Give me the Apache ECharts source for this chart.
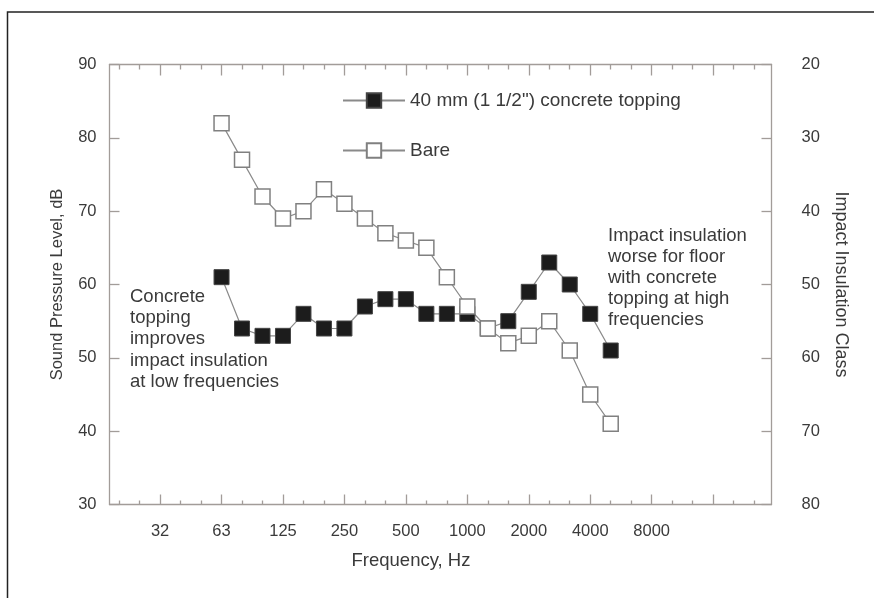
<!DOCTYPE html>
<html>
<head>
<meta charset="utf-8">
<script src="https://cdn.jsdelivr.net/npm/echarts@6/dist/echarts.min.js"></script>
<style>
html,body{margin:0;padding:0;background:#fff;}
#chart{width:874px;height:598px;}
</style>
</head>
<body>
<div id="chart"></div>
<script>
// Third-octave band axis (index 0 = 31.5 Hz)
const allBands = ['31.5','40','50','63','80','100','125','160','200','250','315','400','500','630','800','1000','1250','1600','2000','2500','3150','4000','5000','6300','8000','10000','12500','16000'];
const tickLabels = ['32','63','125','250','500','1000','2000','4000','8000'];
const tickBands = ['31.5','63','125','250','500','1000','2000','4000','8000'];
const bands = ['63','80','100','125','160','200','250','315','400','500','630','800','1000','1250','1600','2000','2500','3150','4000','5000'];
const concrete = [61,54,53,53,56,54,54,57,58,58,56,56,56,54,55,59,63,60,56,51];
const bare = [82,77,72,69,70,73,71,69,67,66,65,61,57,54,52,53,55,51,45,41];
const concreteName = '40 mm (1 1/2") concrete topping';
const bareName = 'Bare';

const font = 'Liberation Sans, Arial, Helvetica, sans-serif';
const axisColor = '#a29c99';
const textColor = '#3a3a3a';

const xMin = -2.47, xMax = 29.85;
const majorTicks = [];
for (let i = 0; i < allBands.length; i += 3) majorTicks.push(i);
const minorTicks = [];
for (let i = -2; i <= 29; i++) if (i % 3 !== 0) minorTicks.push(i);
const labelPos = tickBands.map(b => allBands.indexOf(b));

function toXY(vals) {
  return bands.map((b, i) => [allBands.indexOf(b), vals[i]]);
}

const chart = echarts.init(document.getElementById('chart'));
const baseX = {
  type: 'value', min: xMin, max: xMax,
  splitLine: {show: false},
  axisLine: {show: false},
  axisLabel: {show: false},
};
const option = {
  animation: false,
  textStyle: {fontFamily: font},
  grid: {left: 109.5, right: 102.5, top: 64.5, bottom: 93.5, containLabel: false},
  legend: {
    orient: 'vertical', left: 337, top: 86,
    itemWidth: 62, itemHeight: 18, itemGap: 31,
    textStyle: {fontSize: 19, lineHeight: 19, color: textColor, fontFamily: font},
    data: [concreteName, bareName]
  },
  xAxis: [
    Object.assign({}, baseX, {
      position: 'bottom',
      axisLine: {show: true, onZero: false, lineStyle: {color: axisColor, width: 1.3}},
      axisTick: {show: true, inside: true, length: 10, customValues: majorTicks, lineStyle: {color: axisColor, width: 1.3}},
      axisLabel: {show: true, customValues: labelPos, margin: 18, fontSize: 16.5, color: textColor, fontFamily: font,
        formatter: v => { const k = labelPos.indexOf(Math.round(v)); return k >= 0 ? tickLabels[k] : ''; }}
    }),
    Object.assign({}, baseX, {
      position: 'bottom',
      axisTick: {show: true, inside: true, length: 4, customValues: minorTicks, lineStyle: {color: axisColor, width: 1.3}}
    }),
    Object.assign({}, baseX, {
      position: 'top',
      axisLine: {show: true, onZero: false, lineStyle: {color: axisColor, width: 1.3}},
      axisTick: {show: true, inside: true, length: 11, customValues: majorTicks, lineStyle: {color: axisColor, width: 1.3}}
    }),
    Object.assign({}, baseX, {
      position: 'top',
      axisTick: {show: true, inside: true, length: 5, customValues: minorTicks, lineStyle: {color: axisColor, width: 1.3}}
    })
  ],
  yAxis: [
    {
      type: 'value', min: 30, max: 90, interval: 10, position: 'left',
      name: 'Sound Pressure Level, dB', nameLocation: 'middle', nameRotate: 90, nameGap: 44,
      nameTextStyle: {fontSize: 16.5, color: textColor, fontFamily: font},
      splitLine: {show: false},
      axisLine: {show: true, onZero: false, lineStyle: {color: axisColor, width: 1.3}},
      axisTick: {show: true, inside: true, length: 10, lineStyle: {color: axisColor, width: 1.3}},
      axisLabel: {margin: 13, fontSize: 16.5, color: textColor, fontFamily: font}
    },
    {
      type: 'value', min: 20, max: 80, interval: 10, inverse: true, position: 'right',
      name: 'Impact Insulation Class', nameLocation: 'middle', nameRotate: -90, nameGap: 60,
      nameTextStyle: {fontSize: 18, color: textColor, fontFamily: font},
      splitLine: {show: false},
      axisLine: {show: true, onZero: false, lineStyle: {color: axisColor, width: 1.3}},
      axisTick: {show: true, inside: true, length: 10, lineStyle: {color: axisColor, width: 1.3}},
      axisLabel: {margin: 30, fontSize: 16.5, color: textColor, fontFamily: font}
    }
  ],
  series: [
    {
      name: concreteName, type: 'line', xAxisIndex: 0, yAxisIndex: 0,
      data: toXY(concrete), symbol: 'rect', symbolSize: 15,
      lineStyle: {color: '#8a8a8a', width: 1.2},
      itemStyle: {color: '#1c1c1c', borderColor: '#444', borderWidth: 1}
    },
    {
      name: bareName, type: 'line', xAxisIndex: 0, yAxisIndex: 0,
      data: toXY(bare), symbol: 'rect', symbolSize: 15,
      lineStyle: {color: '#8a8a8a', width: 1.2},
      itemStyle: {color: '#ffffff', borderColor: '#808080', borderWidth: 1.5}
    }
  ],
  graphic: [
    {type: 'polyline', shape: {points: [[7.5, 598], [7.5, 12], [874, 12]]}, style: {stroke: '#222', lineWidth: 1.5, fill: null}, silent: true},
    {type: 'text', left: 130, top: 286, style: {text: 'Concrete\ntopping\nimproves\nimpact insulation\nat low frequencies', fontSize: 18.5, lineHeight: 21.3, fill: textColor, fontFamily: font}},
    {type: 'text', left: 608, top: 225, style: {text: 'Impact insulation\nworse for floor\nwith concrete\ntopping at high\nfrequencies', fontSize: 18.5, lineHeight: 21, fill: textColor, fontFamily: font}},
    {type: 'text', x: 411, y: 561, style: {text: 'Frequency, Hz', fontSize: 18.5, fill: textColor, fontFamily: font, align: 'center', verticalAlign: 'middle'}}
  ]
};
chart.setOption(option);
</script>
</body>
</html>
